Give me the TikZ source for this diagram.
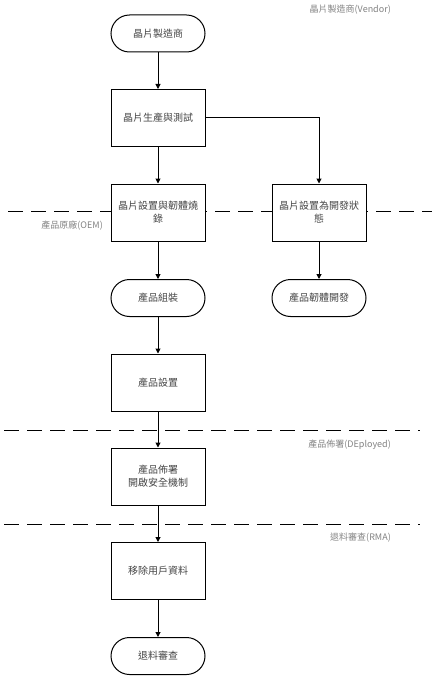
\documentclass[tikz,border=0pt]{standalone}
\usepackage{fontspec}
\newfontfamily\cjk{Noto Sans CJK TC}
\usetikzlibrary{arrows.meta}
\definecolor{txt}{RGB}{70,70,70}
\definecolor{lbl}{RGB}{130,130,130}
\tikzset{
  proc/.style={draw=black, line width=1pt, fill=white, minimum width=94pt, minimum height=57pt, inner sep=1pt, align=center, font=\cjk\fontsize{10}{13}\selectfont, text=txt},
  term/.style={draw=black, line width=1pt, fill=white, rounded corners=18.5pt, minimum width=94pt, minimum height=37pt, inner sep=1pt, align=center, font=\cjk\fontsize{10}{13}\selectfont, text=txt},
  lane/.style={draw=black, line width=0.8pt, dash pattern=on 15pt off 8pt},
  lanelbl/.style={font=\cjk\fontsize{9}{11}\selectfont, text=lbl, inner sep=0pt},
  flow/.style={draw=black, line width=1pt, -{Triangle[length=5pt,width=5pt]}}
}
\begin{document}
\begin{tikzpicture}[x=1pt,y=-1pt]
\useasboundingbox (0,0) rectangle (436,679);
% lanes
\coordinate (l1a) at (8,211); \coordinate (l1b) at (432,211);
\coordinate (l2a) at (4,430); \coordinate (l2b) at (420,430);
\coordinate (l3a) at (4,524); \coordinate (l3b) at (420,524);
\draw[lane] (l1a) -- (l1b);
\draw[lane] (l2a) -- (l2b);
\draw[lane] (l3a) -- (l3b);
% lane labels
\node[lanelbl, anchor=east] (lv) at (391,10) {晶片製造商(Vendor)};
\node[lanelbl, anchor=east] (lo) at (103,226) {產品原廠(OEM)};
\node[lanelbl, anchor=east] (ld) at (391,445) {產品佈署(DEployed)};
\node[lanelbl, anchor=east] (lr) at (391,538) {退料審查(RMA)};
% nodes
\node[term] (n1) at (158,33.5) {晶片製造商};
\node[proc] (n2) at (158,118) {晶片生產與測試};
\node[proc] (n3) at (158,212.5) {晶片設置與韌體燒\\錄};
\node[proc] (n4) at (319,212.5) {晶片設置為開發狀\\態};
\node[term] (n5) at (158,298) {產品組裝};
\node[term] (n6) at (319,298) {產品韌體開發};
\node[proc] (n7) at (158,382.5) {產品設置};
\node[proc] (n8) at (158,476.5) {產品佈署\\開啟安全機制};
\node[proc] (n9) at (158,571) {移除用戶資料};
\node[term] (n10) at (158,656) {退料審查};
% flows
\draw[flow] (n1) -- (n2);
\draw[flow] (n2) -- (n3);
\draw[flow] (n2.east) -| (n4.north);
\draw[flow] (n3) -- (n5);
\draw[flow] (n4) -- (n6);
\draw[flow] (n5) -- (n7);
\draw[flow] (n7) -- (n8);
\draw[flow] (n8) -- (n9);
\draw[flow] (n9) -- (n10);
\end{tikzpicture}
\end{document}
